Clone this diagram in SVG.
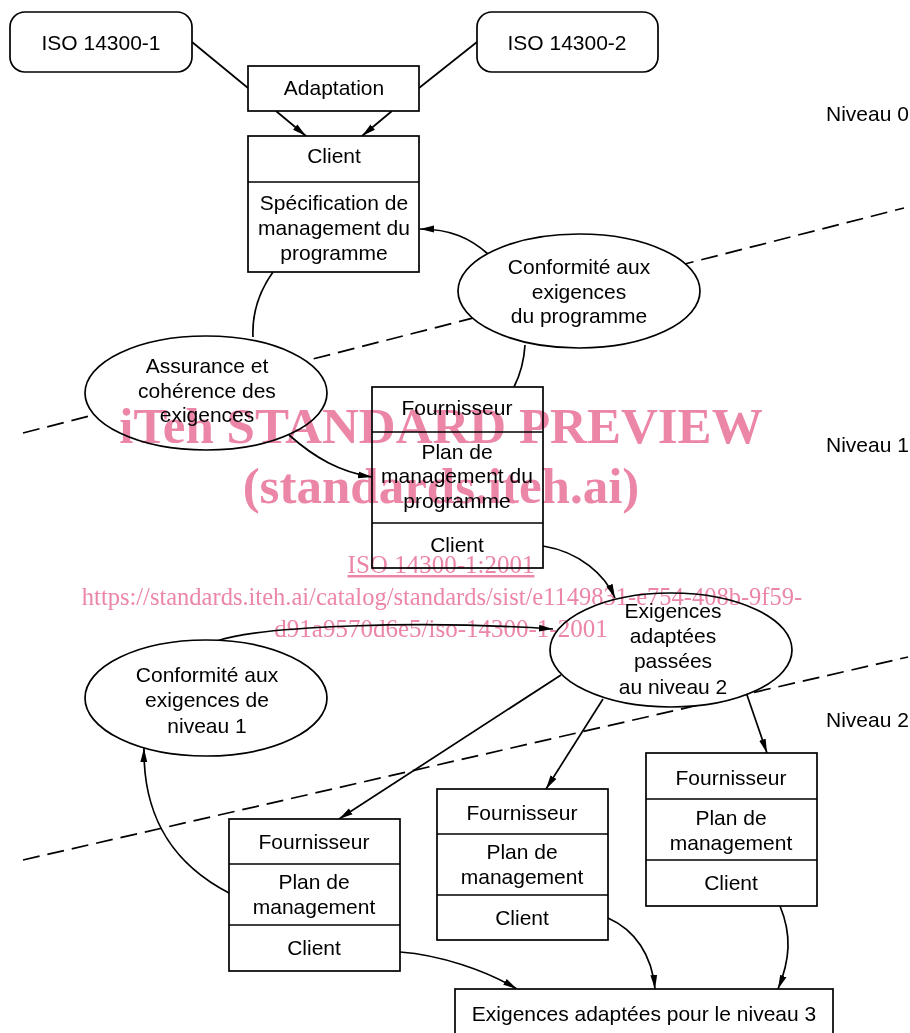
<svg xmlns="http://www.w3.org/2000/svg" width="910" height="1033" viewBox="0 0 910 1033">
<style>
.t{font-family:"Liberation Sans",Arial,sans-serif;font-size:21px;fill:#000;text-anchor:middle}
.n{font-family:"Liberation Sans",Arial,sans-serif;font-size:21px;fill:#000}
.b{fill:#fff;stroke:#000;stroke-width:1.7}
.d{fill:none;stroke:#000;stroke-width:1.7}
.c{fill:none;stroke:#000;stroke-width:1.7}
.a{marker-end:url(#ah)}
.dash{fill:none;stroke:#000;stroke-width:1.7;stroke-dasharray:17 8}
.wm{font-family:"Liberation Serif","Times New Roman",serif;fill:#ec86a6;text-anchor:middle;mix-blend-mode:multiply}
</style>
<defs>
<marker id="ah" markerWidth="15" markerHeight="8" refX="14" refY="4" orient="auto" markerUnits="userSpaceOnUse">
<path d="M0,0.6 L14,4 L0,7.4 z" fill="#000"/>
</marker>
</defs>
<rect width="910" height="1033" fill="#fff"/>
<g id="levels">
<line class="dash" x1="23" y1="433" x2="904" y2="208"/>
<line class="dash" x1="23" y1="860" x2="908" y2="657"/>
<text class="n" x="826" y="121">Niveau 0</text>
<text class="n" x="826" y="452">Niveau 1</text>
<text class="n" x="826" y="727">Niveau 2</text>
</g>
<g id="connectors">
<line class="c" x1="192" y1="42" x2="248" y2="88"/>
<line class="c" x1="477" y1="42" x2="419" y2="88"/>
<line class="c a" x1="276" y1="111" x2="306" y2="136"/>
<line class="c a" x1="392" y1="111" x2="362" y2="136"/>
<path class="c a" d="M488,254 C470,238 450,229 420,229"/>
<path class="c" d="M273,272 C258,293 252,315 253,337"/>
<path class="c" d="M525,345 C524,362 520,375 514,387"/>
<path class="c a" d="M289,435 C315,458 340,472 372,477"/>
<path class="c a" d="M543,546 C580,552 605,575 615,598"/>
<path class="c a" d="M217,641 C260,626 420,620 553,629"/>
<line class="c a" x1="561" y1="675" x2="339" y2="819"/>
<line class="c a" x1="603" y1="699" x2="546" y2="789"/>
<line class="c a" x1="747" y1="695" x2="767" y2="753"/>
<path class="c a" d="M229,893 C175,865 143,820 144,748"/>
<path class="c a" d="M400,952 C440,955 485,970 517,989"/>
<path class="c a" d="M608,918 C635,930 652,955 655,989"/>
<path class="c a" d="M780,906 C792,935 790,960 778,989"/>
</g>
<g id="iso1">
<rect class="b" x="10" y="12" width="182" height="60" rx="15"/>
<text class="t" x="101" y="50">ISO 14300-1</text>
</g>
<g id="iso2">
<rect class="b" x="477" y="12" width="181" height="60" rx="15"/>
<text class="t" x="567" y="50">ISO 14300-2</text>
</g>
<g id="adaptation">
<rect class="b" x="248" y="66" width="171" height="45"/>
<text class="t" x="334" y="95">Adaptation</text>
</g>
<g id="client0">
<rect class="b" x="248" y="136" width="171" height="136"/>
<line class="d" x1="248" y1="182" x2="419" y2="182"/>
<text class="t" x="334" y="163">Client</text>
<text class="t" x="334" y="210">Spécification de</text>
<text class="t" x="334" y="235">management du</text>
<text class="t" x="334" y="260">programme</text>
</g>
<g id="conf-prog">
<ellipse class="b" cx="579" cy="291" rx="121" ry="57"/>
<text class="t" x="579" y="274">Conformité aux</text>
<text class="t" x="579" y="299">exigences</text>
<text class="t" x="579" y="323">du programme</text>
</g>
<g id="assurance">
<ellipse class="b" cx="206" cy="393" rx="121" ry="57"/>
<text class="t" x="207" y="373">Assurance et</text>
<text class="t" x="207" y="398">cohérence des</text>
<text class="t" x="207" y="422">exigences</text>
</g>
<g id="fournisseur1">
<rect class="b" x="372" y="387" width="171" height="181"/>
<line class="d" x1="372" y1="432" x2="543" y2="432"/>
<line class="d" x1="372" y1="523" x2="543" y2="523"/>
<text class="t" x="457" y="415">Fournisseur</text>
<text class="t" x="457" y="459">Plan de</text>
<text class="t" x="457" y="483">management du</text>
<text class="t" x="457" y="508">programme</text>
<text class="t" x="457" y="552">Client</text>
</g>
<g id="exigences2">
<ellipse class="b" cx="671" cy="650" rx="121" ry="57"/>
<text class="t" x="673" y="618">Exigences</text>
<text class="t" x="673" y="643">adaptées</text>
<text class="t" x="673" y="668">passées</text>
<text class="t" x="673" y="694">au niveau 2</text>
</g>
<g id="conf-n1">
<ellipse class="b" cx="206" cy="698" rx="121" ry="58"/>
<text class="t" x="207" y="682">Conformité aux</text>
<text class="t" x="207" y="707">exigences de</text>
<text class="t" x="207" y="733">niveau 1</text>
</g>
<g id="box1">
<rect class="b" x="229" y="819" width="171" height="152"/>
<line class="d" x1="229" y1="864" x2="400" y2="864"/>
<line class="d" x1="229" y1="925" x2="400" y2="925"/>
<text class="t" x="314" y="849">Fournisseur</text>
<text class="t" x="314" y="889">Plan de</text>
<text class="t" x="314" y="914">management</text>
<text class="t" x="314" y="955">Client</text>
</g>
<g id="box2">
<rect class="b" x="437" y="789" width="171" height="151"/>
<line class="d" x1="437" y1="834" x2="608" y2="834"/>
<line class="d" x1="437" y1="895" x2="608" y2="895"/>
<text class="t" x="522" y="820">Fournisseur</text>
<text class="t" x="522" y="859">Plan de</text>
<text class="t" x="522" y="884">management</text>
<text class="t" x="522" y="925">Client</text>
</g>
<g id="box3">
<rect class="b" x="646" y="753" width="171" height="153"/>
<line class="d" x1="646" y1="799" x2="817" y2="799"/>
<line class="d" x1="646" y1="860" x2="817" y2="860"/>
<text class="t" x="731" y="785">Fournisseur</text>
<text class="t" x="731" y="825">Plan de</text>
<text class="t" x="731" y="850">management</text>
<text class="t" x="731" y="890">Client</text>
</g>
<g id="niveau3">
<rect class="b" x="455" y="989" width="378" height="60"/>
<text class="t" x="644" y="1021">Exigences adaptées pour le niveau 3</text>
</g>
<g id="watermark">
<text class="wm" x="441" y="443" font-size="51" font-weight="bold">iTeh STANDARD PREVIEW</text>
<text class="wm" x="441" y="503" font-size="51" font-weight="bold">(standards.iteh.ai)</text>
<text class="wm" x="441" y="573" font-size="25" text-decoration="underline">ISO 14300-1:2001</text>
<text class="wm" x="442" y="605" font-size="24.5">https://standards.iteh.ai/catalog/standards/sist/e1149831-e754-408b-9f59-</text>
<text class="wm" x="441" y="637" font-size="25">d91a9570d6e5/iso-14300-1-2001</text>
</g>
</svg>
